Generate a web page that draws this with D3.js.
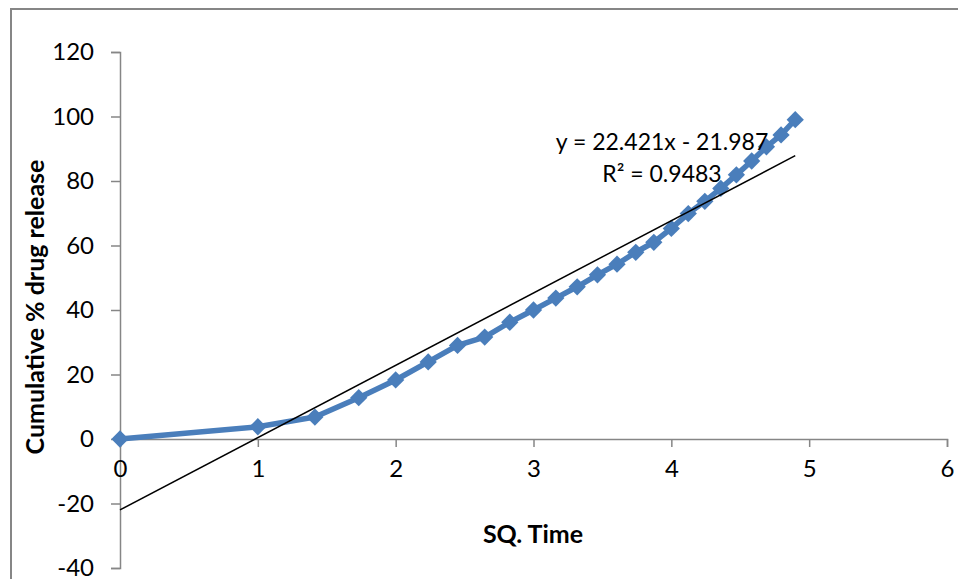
<!DOCTYPE html>
<html>
<head>
<meta charset="utf-8">
<script src="https://cdn.jsdelivr.net/npm/d3@7"></script>
<style>
  html, body { margin: 0; padding: 0; background: #fff; }
  svg { display: block; font-family: Lato, "Open Sans", sans-serif; }
</style>
</head>
<body>
<svg id="chart" width="958" height="579"></svg>
<script>
// Square root of time (h^0.5) and cumulative % drug release
const sqTime = [0, 1, 1.414, 1.732, 2, 2.236, 2.449, 2.646, 2.828, 3, 3.162, 3.317,
  3.464, 3.606, 3.742, 3.873, 4, 4.123, 4.243, 4.359, 4.472, 4.583, 4.690, 4.796, 4.899];
const release = [0, 3.8, 6.8, 12.8, 18.3, 23.9, 29.0, 31.6, 36.2, 40.0, 43.7, 47.2,
  50.9, 54.2, 57.9, 61.0, 65.3, 69.9, 73.7, 77.7, 81.9, 86.2, 90.6, 94.3, 99.0];

// Linear trendline reported for the series
const trendSlope = 22.421;
const trendIntercept = -21.987;
const trendLabel = ["y = 22.421x - 21.987", "R\u00B2 = 0.9483"];

const xTicks = [0, 1, 2, 3, 4, 5, 6];
const yTicks = [-40, -20, 0, 20, 40, 60, 80, 100, 120];

const svg = d3.select("#chart");
const axisColor = "#868686";
const seriesColor = "#4a7ebb";
const plain = d => String(d);

// Outer chart-area border
svg.append("rect")
  .attr("x", 11).attr("y", 9)
  .attr("width", 1000).attr("height", 1000)
  .attr("fill", "none")
  .attr("stroke", axisColor)
  .attr("stroke-width", 2);

const x = d3.scaleLinear().domain([0, 6]).range([120, 947]);
const y = d3.scaleLinear().domain([-40, 120]).range([568, 52]);

// Y axis
const yAxis = svg.append("g")
  .attr("transform", `translate(${x(0)},0)`)
  .call(d3.axisLeft(y).tickValues(yTicks).tickSize(9).tickPadding(17).tickFormat(plain));
yAxis.select(".domain").attr("stroke", axisColor).attr("stroke-width", 1.5);
yAxis.selectAll(".tick line").attr("stroke", axisColor).attr("stroke-width", 1.5);
yAxis.selectAll(".tick text")
  .attr("fill", "#000").style("font-size", "24px").style("font-family", "Lato, sans-serif");

// X axis along y = 0
const xAxis = svg.append("g")
  .attr("transform", `translate(0,${y(0)})`)
  .call(d3.axisBottom(x).tickValues(xTicks).tickSize(8).tickPadding(13).tickFormat(plain));
xAxis.select(".domain").attr("stroke", axisColor).attr("stroke-width", 1.5);
xAxis.selectAll(".tick line").attr("stroke", axisColor).attr("stroke-width", 1.5);
xAxis.selectAll(".tick text")
  .attr("fill", "#000").style("font-size", "24px").style("font-family", "Lato, sans-serif");

// Axis titles
svg.append("text")
  .attr("transform", `translate(44,307) rotate(-90)`)
  .attr("text-anchor", "middle")
  .style("font-size", "25px").style("font-weight", "bold")
  .text("Cumulative % drug release");

svg.append("text")
  .attr("x", 533).attr("y", 543)
  .attr("text-anchor", "middle")
  .style("font-size", "25px").style("font-weight", "bold")
  .text("SQ. Time");

// Data series: line with diamond markers
const pts = sqTime.map((t, i) => [t, release[i]]);
svg.append("path")
  .datum(pts)
  .attr("fill", "none")
  .attr("stroke", seriesColor)
  .attr("stroke-width", 5.5)
  .attr("stroke-linejoin", "round")
  .attr("d", d3.line().x(d => x(d[0])).y(d => y(d[1])));

const diamond = d3.symbol().type(d3.symbolDiamond2).size(190);
svg.append("g").selectAll("path")
  .data(pts)
  .join("path")
  .attr("transform", d => `translate(${x(d[0])},${y(d[1])})`)
  .attr("d", diamond)
  .attr("fill", seriesColor);

// Linear trendline across the data range
const xMax = d3.max(sqTime);
svg.append("line")
  .attr("x1", x(0)).attr("y1", y(trendIntercept))
  .attr("x2", x(xMax)).attr("y2", y(trendSlope * xMax + trendIntercept))
  .attr("stroke", "#000")
  .attr("stroke-width", 1.5);

// Trendline equation and R²
svg.append("g").selectAll("text")
  .data(trendLabel)
  .join("text")
  .attr("x", 662)
  .attr("y", (d, i) => 150 + i * 32)
  .attr("text-anchor", "middle")
  .style("font-size", "23px")
  .text(d => d);
</script>
</body>
</html>
